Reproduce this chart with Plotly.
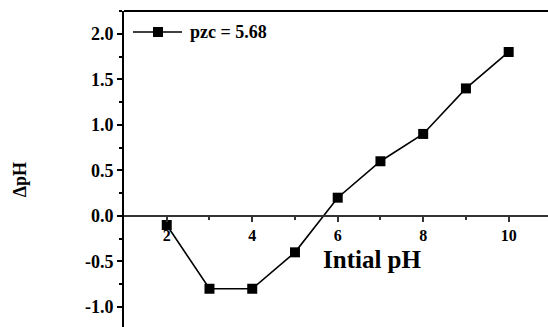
import plotly.graph_objects as go

initial_ph = [2, 3, 4, 5, 6, 7, 8, 9, 10]
delta_ph = [-0.1, -0.8, -0.8, -0.4, 0.2, 0.6, 0.9, 1.4, 1.8]
series_name = "pzc = 5.68"

x_tick_vals = [2, 4, 6, 8, 10]
x_tick_text = ["2", "4", "6", "8", "10"]
x_minor_vals = [3, 5, 7, 9]
y_tick_vals = [-1.0, -0.5, 0.0, 0.5, 1.0, 1.5, 2.0]
y_tick_text = ["-1.0", "-0.5", "0.0", "0.5", "1.0", "1.5", "2.0"]

x_range = [1.0, 10.92]
y_range = [-1.22, 2.25]

FONT = "Liberation Serif, Times New Roman, serif"

def bold(s):
    return "<b>" + s + "</b>"

fig = go.Figure()
fig.add_trace(go.Scatter(
    x=initial_ph, y=delta_ph, name=series_name, mode="lines+markers",
    line=dict(color="black", width=1.6),
    marker=dict(symbol="square", size=10, color="black"),
    showlegend=False,
))

x_axis_pos = (0 - y_range[0]) / (y_range[1] - y_range[0])

# legend drawn by hand (longer sample line than Plotly's built-in legend)
leg_y = 0.9335
leg_x0, leg_x1, leg_xm, leg_tx = 0.0212, 0.1368, 0.0802, 0.151

fig.update_layout(
    width=548, height=327,
    margin=dict(l=124, r=0, t=11, b=0),
    paper_bgcolor="white", plot_bgcolor="white",
    font=dict(family=FONT, color="black"),
    showlegend=False,
    xaxis=dict(
        range=x_range, showgrid=False, zeroline=False,
        anchor="free", position=x_axis_pos,
        showline=True, linecolor="#333", linewidth=1.5,
        tickmode="array", tickvals=x_tick_vals,
        ticktext=[bold(t) for t in x_tick_text],
        ticks="outside", ticklen=5, tickwidth=1.5, tickcolor="#333",
        tickfont=dict(family=FONT, size=16),
        minor=dict(tickvals=x_minor_vals, ticks="outside", ticklen=3,
                   tickwidth=1.5, tickcolor="#333"),
    ),
    yaxis=dict(
        range=y_range, showgrid=False, zeroline=False,
        showline=True, linecolor="black", linewidth=2,
        tickmode="array", tickvals=y_tick_vals,
        ticktext=[bold(t) for t in y_tick_text],
        ticks="outside", ticklen=5, tickwidth=1.5, tickcolor="black",
        tickfont=dict(family=FONT, size=18),
        minor=dict(dtick=0.25, tick0=0, ticks="outside", ticklen=3,
                   tickwidth=1.5, tickcolor="black"),
    ),
    shapes=[
        dict(type="line", xref="paper", yref="paper", x0=0, x1=1, y0=1, y1=1,
             line=dict(color="black", width=2)),
        dict(type="line", xref="paper", yref="paper", x0=leg_x0, x1=leg_x1,
             y0=leg_y, y1=leg_y, line=dict(color="black", width=1.6)),
        dict(type="rect", xref="paper", yref="paper", xsizemode="pixel",
             ysizemode="pixel", xanchor=leg_xm, yanchor=leg_y,
             x0=-5, x1=5, y0=-5, y1=5, fillcolor="black",
             line=dict(color="black", width=0)),
    ],
    annotations=[
        dict(text=bold(series_name), xref="paper", yref="paper", x=leg_tx, y=leg_y,
             xanchor="left", yanchor="middle", showarrow=False,
             font=dict(family=FONT, size=18)),
        dict(text=bold("Intial pH"), xref="paper", yref="paper", x=0.585, y=0.215,
             xanchor="center", yanchor="middle",
             showarrow=False, font=dict(family=FONT, size=25)),
        dict(text=bold("ΔpH"), xref="paper", yref="paper", x=-0.245, y=0.465,
             xanchor="center", yanchor="middle",
             showarrow=False, textangle=-90,
             font=dict(family=FONT, size=18)),
    ],
)

fig.write_html("out.html")
